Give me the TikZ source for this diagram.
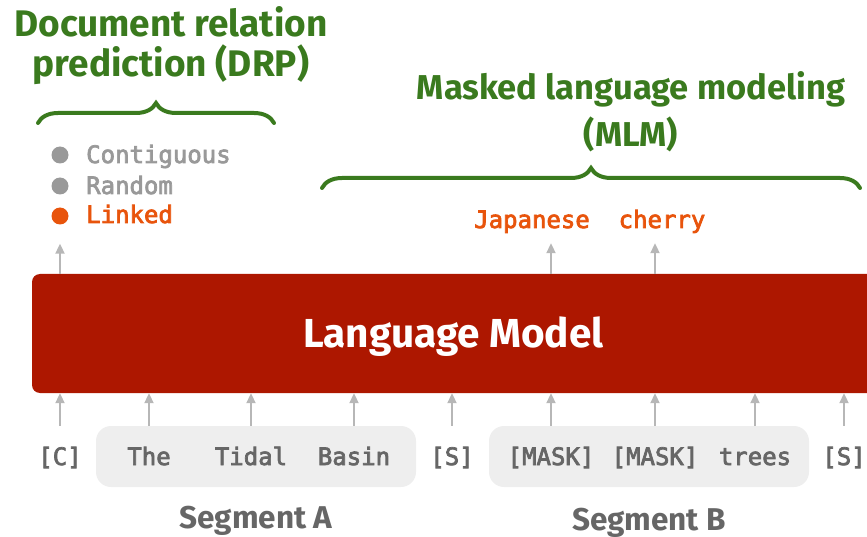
\documentclass[tikz,border=0pt]{standalone}
\usepackage{fontspec}
\setmainfont{Fira Sans}
\newfontfamily\codefont[FakeBold=3]{DejaVu Sans Mono}
\usetikzlibrary{arrows.meta,decorations.pathreplacing}
\definecolor{headgreen}{HTML}{3A7A1E}
\definecolor{predorange}{HTML}{E8540C}
\definecolor{lmred}{HTML}{AD1700}
\definecolor{tokgray}{HTML}{666666}
\definecolor{bulgray}{HTML}{999999}
\definecolor{segfill}{HTML}{EEEEEE}
\definecolor{arrgray}{HTML}{B7B7B7}
\begin{document}
\begin{tikzpicture}[x=1pt,y=-1pt,
  tok/.style={font=\codefont\fontsize{24}{24}\selectfont, text=tokgray, inner sep=0pt, minimum height=60pt, text height=18pt, text depth=0pt},
  outtok/.style={font=\codefont\fontsize{24}{24}\selectfont, inner xsep=0pt, inner ysep=10pt, text height=18pt, text depth=5pt, anchor=base},
  dot/.style={circle, inner sep=0pt, minimum size=17pt},
  head/.style={text=headgreen, align=center, inner sep=0pt, anchor=base},
  seglabel/.style={font=\bfseries\fontsize{31.5}{31.5}\selectfont, text=tokgray, inner sep=0pt, anchor=base},
  segbox/.style={fill=segfill, rounded corners=15pt, inner sep=0pt},
  up/.style={draw=arrgray, line width=2pt, -{Triangle[width=9pt,length=10pt]}},
  brc/.style={draw=headgreen, line width=4pt, line cap=round, decorate, decoration={brace, amplitude=20pt}}]
\useasboundingbox (0,0) rectangle (867,537);
\clip (0,0) rectangle (867,537);
\node[head, font=\bfseries\fontsize{37}{40}\selectfont] (drp) at (171,77) {Document relation\\prediction (DRP)};
\node[head, font=\bfseries\fontsize{34.5}{47}\selectfont] (mlm) at (631,147) {Masked language modeling\\(MLM)};
\draw[brc] (38,123) -- (274,123);
\draw[brc] (322,188) -- (860,188);
\node[dot, fill=bulgray] (d1) at (60,155) {};
\node[dot, fill=bulgray] (d2) at (60,186) {};
\node[dot, fill=predorange] (d3) at (60,216) {};
\node[outtok, anchor=base west, text=bulgray] (contig) at (86,163) {Contiguous};
\node[outtok, anchor=base west, text=bulgray] (random) at (86,194) {Random};
\node[outtok, anchor=base west, text=predorange] (linked) at (86,223) {Linked};
\node[outtok, text=predorange] (jap) at (532,228) {Japanese};
\node[outtok, text=predorange] (cherry) at (662,228) {cherry};
\node[fill=lmred, rounded corners=8pt, minimum width=843pt, minimum height=119pt, text=white, font=\bfseries\fontsize{40.5}{40.5}\selectfont, text height=27pt, text depth=0pt] (lm) at (453.5,333.5) {Language Model};
\node[segbox, minimum width=320pt, minimum height=61pt] (sega) at (256,456.5) {};
\node[segbox, minimum width=320pt, minimum height=61pt] (segb) at (649,456.5) {};
\node[tok] (tc) at (60,456) {[C]};
\node[tok] (t1) at (149,456) {The};
\node[tok] (t2) at (251,456) {Tidal};
\node[tok] (t3) at (354,456) {Basin};
\node[tok] (ts1) at (452,456) {[S]};
\node[tok] (m1) at (551,456) {[MASK]};
\node[tok] (m2) at (655,456) {[MASK]};
\node[tok] (t4) at (755,456) {trees};
\node[tok] (ts2) at (844,456) {[S]};
\node[seglabel] (laba) at (256,528) {Segment A};
\node[seglabel] (labb) at (649,530) {Segment B};
\draw[up] (tc.north) -- (tc |- lm.south);
\draw[up] (t1.north) -- (t1 |- lm.south);
\draw[up] (t2.north) -- (t2 |- lm.south);
\draw[up] (t3.north) -- (t3 |- lm.south);
\draw[up] (ts1.north) -- (ts1 |- lm.south);
\draw[up] (m1.north) -- (m1 |- lm.south);
\draw[up] (m2.north) -- (m2 |- lm.south);
\draw[up] (t4.north) -- (t4 |- lm.south);
\draw[up] (ts2.north) -- (ts2 |- lm.south);
\draw[up, shorten >=19pt] (lm.north -| d3) -- (d3.south);
\draw[up] (lm.north -| m1) -- (m1 |- jap.south);
\draw[up] (lm.north -| m2) -- (m2 |- cherry.south);
\end{tikzpicture}
\end{document}
